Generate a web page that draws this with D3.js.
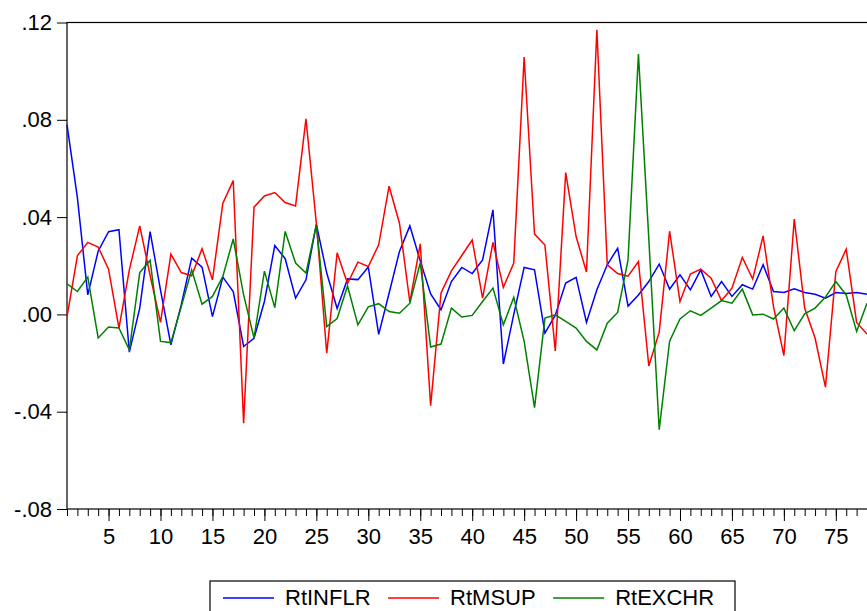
<!DOCTYPE html>
<html>
<head>
<meta charset="utf-8">
<script src="https://cdn.jsdelivr.net/npm/d3@7"></script>
<style>
  html, body { margin: 0; padding: 0; background: #fff; }
  svg { display: block; }
  text { font-family: "Liberation Sans", Arial, sans-serif; fill: #000; }
</style>
</head>
<body>
<svg id="chart" width="867" height="611"></svg>
<script>
// ---- data ----
const seriesNames = ["RtINFLR", "RtMSUP", "RtEXCHR"];
const seriesColors = ["#0000ff", "#ff0000", "#008000"];

const rtINFLR = [0.078, 0.048, 0.008, 0.026, 0.034, 0.0348, -0.0155, 0.0026, 0.034, 0.010,
  -0.0125, 0.004, 0.0231, 0.0194, -0.0009, 0.0153, 0.0094, -0.0132, -0.0098, 0.0053,
  0.0283, 0.0229, 0.0067, 0.0142, 0.0371, 0.017, 0.0024, 0.0146, 0.0143, 0.0195,
  -0.0082, 0.0087, 0.0259, 0.0364, 0.022, 0.0084, 0.0019, 0.0135, 0.0193, 0.0168,
  0.0224, 0.043, -0.0204, 0.000, 0.0193, 0.0183, -0.0077, -0.0003, 0.0129, 0.0152,
  -0.0033, 0.0101, 0.0204, 0.0272, 0.0034, 0.008, 0.0135, 0.0207, 0.0104, 0.0163,
  0.0101, 0.0183, 0.0074, 0.0135, 0.0074, 0.0122, 0.0104, 0.0204, 0.0094, 0.009,
  0.0105, 0.009, 0.0083, 0.0067, 0.009, 0.0086, 0.009, 0.0083];

const rtMSUP = [-0.001, 0.0241, 0.0296, 0.0277, 0.0186, -0.0056, 0.0183, 0.0364, 0.016, -0.0033,
  0.0248, 0.0172, 0.0159, 0.027, 0.0142, 0.0457, 0.055, -0.0447, 0.0441, 0.0487,
  0.0501, 0.046, 0.0446, 0.0804, 0.0375, -0.0159, 0.0253, 0.0127, 0.0215, 0.0197,
  0.0286, 0.0527, 0.0375, 0.005, 0.029, -0.0375, 0.0088, 0.0179, 0.0242, 0.0306,
  0.0067, 0.0296, 0.0111, 0.0211, 0.1058, 0.033, 0.0285, -0.015, 0.0583, 0.032,
  0.0174, 0.117, 0.0204, 0.0168, 0.0157, 0.0217, -0.0212, -0.0073, 0.0342, 0.0053,
  0.0166, 0.0186, 0.0149, 0.0057, 0.0108, 0.0234, 0.0145, 0.0323, 0.0032, -0.0169,
  0.0392, 0.0026, -0.0097, -0.0299, 0.0176, 0.0268, -0.0033, -0.0081];

const rtEXCHR = [0.0126, 0.0094, 0.0153, -0.0097, -0.0052, -0.0056, -0.0146, 0.0172, 0.0222, -0.0111,
  -0.0116, 0.0032, 0.0183, 0.0042, 0.0074, 0.0156, 0.031, 0.008, -0.0097, 0.0178,
  0.0028, 0.0341, 0.0211, 0.017, 0.0368, -0.005, -0.0017, 0.0117, -0.0043, 0.0031,
  0.0044, 0.0012, 0.0005, 0.0046, 0.0212, -0.0134, -0.0122, 0.0026, -0.0011, -0.0004,
  0.0053, 0.0108, -0.0043, 0.007, -0.0111, -0.0383, -0.0015, -0.0002, -0.0029, -0.0056,
  -0.0111, -0.0146, -0.0036, 0.0008, 0.0224, 0.107, 0.031, -0.0474, -0.011, -0.0019,
  0.0015, -0.0004, 0.0026, 0.0057, 0.0046, 0.0104, -0.0002, 0.0001, -0.0019, 0.0026,
  -0.0067, 0.0002, 0.0026, 0.0071, 0.0135, 0.008, -0.007, 0.0046];

const yTickValues = [-0.08, -0.04, 0.00, 0.04, 0.08, 0.12];
const yTickLabels = ["-.08", "-.04", ".00", ".04", ".08", ".12"];
const xTickLabels = ["5", "10", "15", "20", "25", "30", "35", "40", "45", "50", "55", "60", "65", "70", "75"];

// ---- layout ----
const svg = d3.select("#chart");
const pLeft = 67, pRight = 867, pTop = 22.5, pBottom = 509;
const nObs = rtINFLR.length;
const fontPx = "22px";

const x = d3.scaleLinear().domain([1, nObs]).range([pLeft, pRight]);
const y = d3.scaleLinear().domain([-0.08, 0.12]).range([pBottom, pTop]);

// frame
svg.append("rect")
  .attr("x", pLeft).attr("y", pTop)
  .attr("width", pRight - pLeft + 5).attr("height", pBottom - pTop)
  .attr("fill", "none").attr("stroke", "#000").attr("stroke-width", 1.2);

// y axis
const yAxis = d3.axisLeft(y)
  .tickValues(yTickValues)
  .tickFormat((d, i) => yTickLabels[i])
  .tickSize(10).tickPadding(5);
const gy = svg.append("g").attr("transform", `translate(${pLeft},0)`).call(yAxis);
gy.select(".domain").remove();
gy.selectAll("line").attr("stroke", "#000").attr("stroke-width", 1);
gy.selectAll("text").style("font-size", fontPx).attr("fill", "#000");

// x axis: minor ticks
const obsIdx = rtINFLR.map((d, i) => i + 1);
const xMinor = d3.axisBottom(x).tickValues(obsIdx).tickSize(7).tickFormat("");
const gxm = svg.append("g").attr("transform", `translate(0,${pBottom})`).call(xMinor);
gxm.select(".domain").remove();
gxm.selectAll("line").attr("stroke", "#000").attr("stroke-width", 1);

// x axis: major ticks with labels
const xMajorVals = xTickLabels.map(Number);
const xMajor = d3.axisBottom(x).tickValues(xMajorVals).tickSize(12).tickPadding(7)
  .tickFormat((d, i) => xTickLabels[i]);
const gx = svg.append("g").attr("transform", `translate(0,${pBottom})`).call(xMajor);
gx.select(".domain").remove();
gx.selectAll("line").attr("stroke", "#000").attr("stroke-width", 1);
gx.selectAll("text").style("font-size", fontPx).attr("fill", "#000");

// lines
const allSeries = [rtINFLR, rtMSUP, rtEXCHR];
const line = d3.line().x((d, i) => x(i + 1)).y(d => y(d));
allSeries.forEach((s, k) => {
  svg.append("path")
    .datum(s)
    .attr("d", line)
    .attr("fill", "none")
    .attr("stroke", seriesColors[k])
    .attr("stroke-width", 1.5)
    .attr("stroke-linejoin", "miter");
});

// legend
const lg = svg.append("g");
lg.append("rect").attr("x", 210).attr("y", 581).attr("width", 525).attr("height", 40)
  .attr("fill", "#fff").attr("stroke", "#000").attr("stroke-width", 1.2);
let cursor = 223;
seriesNames.forEach((name, k) => {
  lg.append("line").attr("x1", cursor).attr("x2", cursor + 51)
    .attr("y1", 598).attr("y2", 598)
    .attr("stroke", seriesColors[k]).attr("stroke-width", 1.5);
  const t = lg.append("text").attr("x", cursor + 62).attr("y", 605)
    .style("font-size", fontPx).text(name);
  cursor = cursor + 62 + t.node().getComputedTextLength() + 17.5;
});
</script>
</body>
</html>
